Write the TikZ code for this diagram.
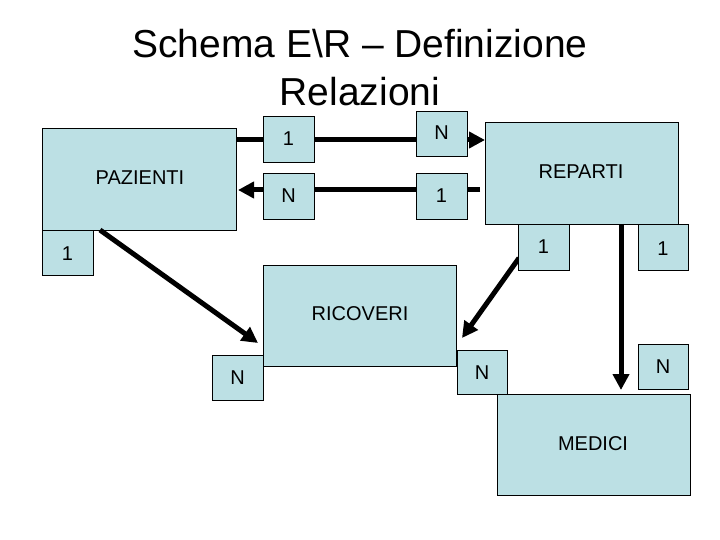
\documentclass[tikz,border=0pt]{standalone}
\usepackage{fontspec}
\setmainfont{Liberation Sans}
\usetikzlibrary{arrows.meta}
\definecolor{boxc}{RGB}{188,224,228}
\begin{document}
\begin{tikzpicture}[x=1pt,y=-1pt,
  box/.style={draw=black,fill=boxc,line width=0.8pt},
  lab/.style={font=\fontsize{20}{24}\selectfont},
  arr/.style={line width=5pt,-{Triangle[length=16pt,width=16pt]}}]
\useasboundingbox (0,0) rectangle (720,540);
\node[font=\fontsize{39}{48}\selectfont,align=center] (title) at (360,68) {Schema E\textbackslash R -- Definizione\\Relazioni};
% entities
\draw[box] (42,128) rectangle (236,230);
\node[lab] (paz) at (140,178) {PAZIENTI};
\draw[box] (485,122) rectangle (678,224);
\node[lab] (rep) at (581,172) {REPARTI};
\draw[box] (263,265) rectangle (456,366);
\node[lab] (ric) at (360,314) {RICOVERI};
\draw[box] (497,394) rectangle (690,495);
\node[lab] (med) at (593,444) {MEDICI};
% connectors
\coordinate (a1) at (236,140); \coordinate (a2) at (485,140);
\coordinate (b1) at (480,190); \coordinate (b2) at (238,190);
\coordinate (c1) at (100,230); \coordinate (c2) at (258,343);
\coordinate (d1) at (519,258); \coordinate (d2) at (462,338);
\coordinate (e1) at (621,224); \coordinate (e2) at (621,390);
\draw[line width=5pt] (a1) -- (470,140);
\draw[arr] (470,140) -- (a2);
\draw[arr] (b1) -- (b2);
\draw[arr] (c1) -- (c2);
\draw[arr] (d1) -- (d2);
\draw[arr] (e1) -- (e2);
% cardinality boxes
\draw[box] (263,116) rectangle (314,162); \node[lab] (c11) at (288.5,139) {1};
\draw[box] (416,111) rectangle (467,156); \node[lab] (c12) at (441.5,133) {N};
\draw[box] (263,173) rectangle (314,219); \node[lab] (c21) at (288.5,196) {N};
\draw[box] (416,173) rectangle (467,219); \node[lab] (c22) at (441.5,196) {1};
\draw[box] (42,230) rectangle (93,275); \node[lab] (c31) at (67.5,254) {1};
\draw[box] (212,355) rectangle (263,400); \node[lab] (c32) at (237.5,378) {N};
\draw[box] (518,224) rectangle (569,270); \node[lab] (c41) at (543.5,247) {1};
\draw[box] (457,350) rectangle (507,394); \node[lab] (c42) at (482,373) {N};
\draw[box] (638,224) rectangle (688,270); \node[lab] (c51) at (663,249) {1};
\draw[box] (638,344) rectangle (688,389); \node[lab] (c52) at (663,367) {N};
\end{tikzpicture}
\end{document}
